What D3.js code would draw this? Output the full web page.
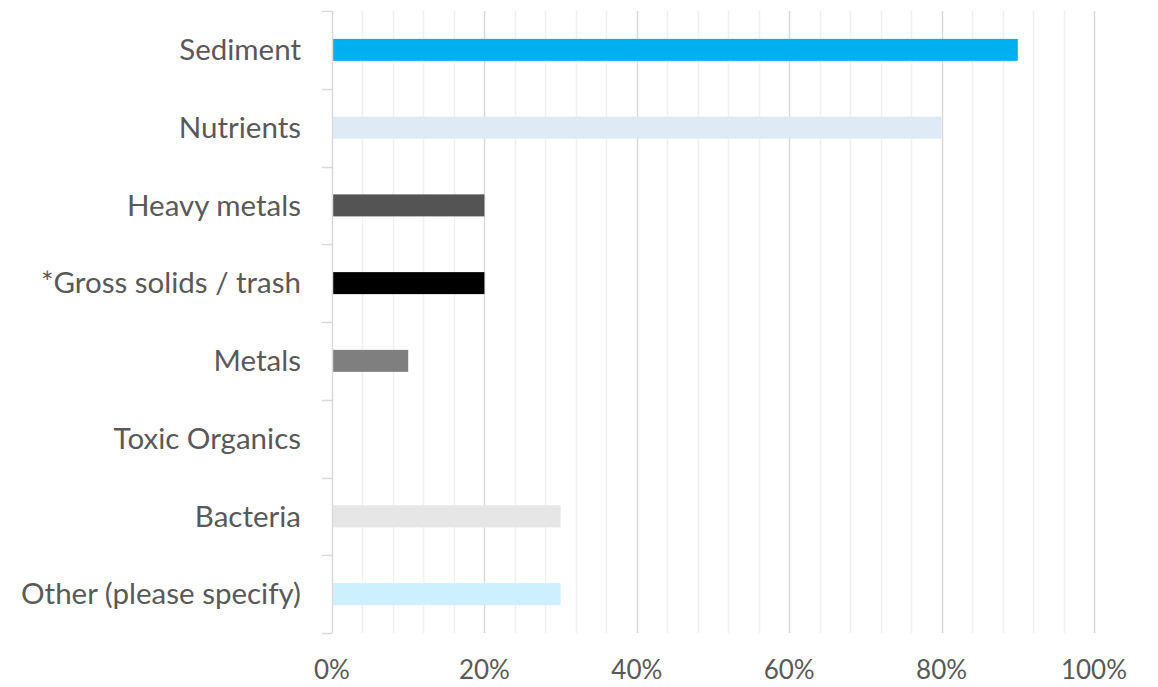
<!DOCTYPE html>
<html>
<head>
<meta charset="utf-8">
<script src="https://cdn.jsdelivr.net/npm/d3@7"></script>
<style>
  html, body { margin: 0; padding: 0; background: #ffffff; }
  svg { display: block; }
  text { font-family: Lato, "Open Sans", sans-serif; fill: #595959; }
</style>
</head>
<body>
<svg id="chart" width="1158" height="687"></svg>
<script>
// Pollutant categories, top to bottom
const categories = [
  "Sediment",
  "Nutrients",
  "Heavy metals",
  "*Gross solids / trash",
  "Metals",
  "Toxic Organics",
  "Bacteria",
  "Other (please specify)"
];
// Share of responses (fraction)
const values = [0.90, 0.80, 0.20, 0.20, 0.10, 0.00, 0.30, 0.30];
const barColors = ["#00B0F0", "#DEEBF7", "#545454", "#000000", "#7F7F7F", "#A5A5A5", "#E6E6E6", "#CCF0FD"];
const majorTicks = [0, 0.2, 0.4, 0.6, 0.8, 1.0];
const minorTicks = d3.range(0, 26).map(i => i * 0.04);

const svg = d3.select("#chart");
const margin = { left: 332, right: 64, top: 11, bottom: 54 };
const W = 1158, H = 687;

const x = d3.scaleLinear().domain([0, 1]).range([margin.left, W - margin.right]);
const y = d3.scaleBand().domain(categories).range([margin.top, H - margin.bottom]).paddingInner(0.717).paddingOuter(0.3585);
const yb = d3.scaleBand().domain(categories).range([margin.top, H - margin.bottom]);

// Minor gridlines
svg.append("g").selectAll("line")
  .data(minorTicks.filter(t => Math.abs(t * 5 - Math.round(t * 5)) > 1e-6))
  .join("line")
  .attr("x1", d => Math.round(x(d)) + 0.5).attr("x2", d => Math.round(x(d)) + 0.5)
  .attr("y1", margin.top).attr("y2", H - margin.bottom)
  .attr("stroke", "#F0F0F0").attr("stroke-width", 1.5);

// Major gridlines
svg.append("g").selectAll("line")
  .data(majorTicks.slice(1))
  .join("line")
  .attr("x1", d => Math.round(x(d)) + 0.5).attr("x2", d => Math.round(x(d)) + 0.5)
  .attr("y1", margin.top).attr("y2", H - margin.bottom)
  .attr("stroke", "#D9D9D9").attr("stroke-width", 1.5);

// Bars
svg.append("g").selectAll("rect")
  .data(categories)
  .join("rect")
  .attr("x", x(0) + 1)
  .attr("y", d => y(d))
  .attr("width", (d, i) => Math.max(0, x(values[i]) - x(0) - 1))
  .attr("height", y.bandwidth())
  .attr("fill", (d, i) => barColors[i]);

// Category axis line and tick marks
const yAxisG = svg.append("g");
yAxisG.append("line")
  .attr("x1", x(0) + 0.5).attr("x2", x(0) + 0.5)
  .attr("y1", margin.top).attr("y2", H - margin.bottom)
  .attr("stroke", "#D9D9D9").attr("stroke-width", 1.5);
const boundaries = categories.map(c => yb(c)).concat([H - margin.bottom]);
yAxisG.selectAll("line.tick")
  .data(boundaries)
  .join("line").attr("class", "tick")
  .attr("x1", x(0) - 10).attr("x2", x(0))
  .attr("y1", d => Math.round(d) + 0.5).attr("y2", d => Math.round(d) + 0.5)
  .attr("stroke", "#D9D9D9").attr("stroke-width", 1.5);

// Category labels
svg.append("g").selectAll("text")
  .data(categories)
  .join("text")
  .attr("x", x(0) - 31)
  .attr("y", d => yb(d) + yb.bandwidth() / 2)
  .attr("dy", "0.35em")
  .attr("text-anchor", "end")
  .style("font-size", "29.5px")
  .text(d => d);

// Percentage axis labels
svg.append("g").selectAll("text")
  .data(majorTicks)
  .join("text")
  .attr("x", d => x(d))
  .attr("y", 670)
  .attr("dy", "0.35em")
  .attr("text-anchor", "middle")
  .style("font-size", "26px")
  .text(d3.format(".0%"));
</script>
</body>
</html>
